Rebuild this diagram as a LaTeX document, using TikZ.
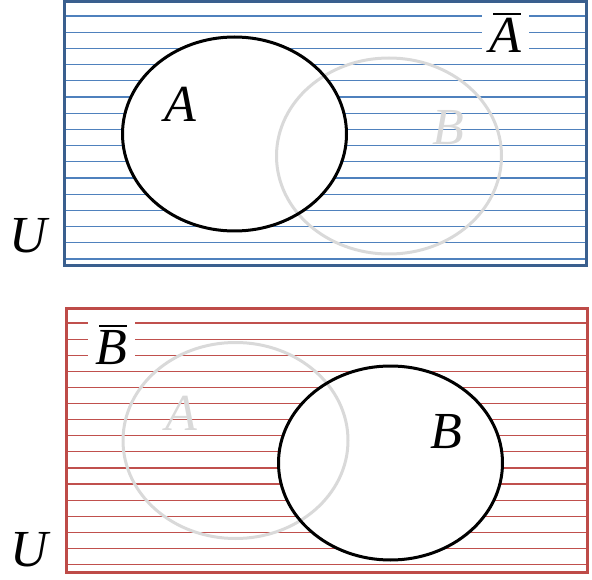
\documentclass[tikz,border=0pt]{standalone}
\usepackage{fontspec}
\setmainfont{Liberation Serif}
\newfontfamily\setfont{Liberation Serif}
\usepackage{tikz}
\usetikzlibrary{shapes.geometric, positioning}

\definecolor{hatchblue}{HTML}{4F81BD}
\definecolor{frameblue}{HTML}{3A5F8E}
\definecolor{hatchred}{HTML}{C0504D}
\definecolor{framered}{HTML}{BE4B48}
\definecolor{ghost}{HTML}{D9D9D9}

% letter with a complement bar over it
\newcommand{\compbar}[1]{\rlap{\hspace{4pt}\rule[37.5pt]{28pt}{2pt}}#1}

\begin{document}
\begin{tikzpicture}[x=1pt, y=-1pt,
    setfill/.style={ellipse, fill=white, minimum width=224pt, minimum height=194pt, inner sep=0pt},
    setline/.style={ellipse, draw=black, line width=3pt, minimum width=224pt, minimum height=194pt, inner sep=0pt},
    ghostset/.style={ellipse, draw=ghost, line width=3pt, minimum width=225pt, minimum height=196pt, inner sep=0pt},
    letter/.style={font=\fontsize{52}{52}\selectfont\setfont\itshape, inner sep=0pt, anchor=base},
    compl/.style={letter, fill=white, minimum width=47pt, minimum height=50pt},
    hatch/.style={line width=1.2pt},
    frame/.style={line width=3pt},
]
  \useasboundingbox (0,0) rectangle (592,580);

  % Upper panel: complement of A
  \foreach \k in {0,...,15}
    \draw[hatch, hatchblue] (64,16+16.2*\k) -- (586,16+16.2*\k);
  \node[setfill] (setA) at (234.5,134) {};
  \node[ghostset] (setB) at (389,156) {};
  \node[setline] (rimA) at (setA) {};
  \node[letter] (labA) at (180,122) {A};
  \node[letter, text=ghost] (labB) at (448,145) {B};
  \node[compl] (labAc) at (505,53) {\compbar{A}};
  \draw[frame, frameblue] (64,2) rectangle (586,266);
  \node[letter] (labU) at (28,253) {U};

  % Lower panel: complement of B
  \foreach \k in {0,...,15}
    \draw[hatch, hatchred] (66,323+16.1*\k) -- (587,323+16.1*\k);
  \node[setfill] (setB2) at (390.5,463) {};
  \node[ghostset] (setA2) at (235.5,440.5) {};
  \node[setline] (rimB2) at (setB2) {};
  \node[letter, text=ghost] (labA2) at (181,430) {A};
  \node[letter] (labB2) at (446,448) {B};
  \node[compl] (labBc) at (111,364) {\compbar{B}};
  \draw[frame, framered] (66,308) rectangle (587,572);
  \node[letter] (labU2) at (29,566) {U};
\end{tikzpicture}
\end{document}
